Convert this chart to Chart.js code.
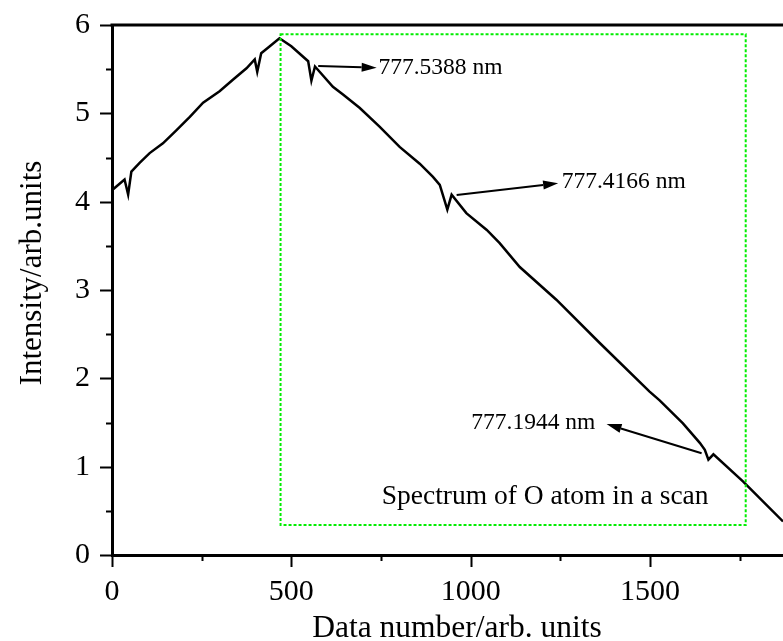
<!DOCTYPE html>
<html>
<head>
<meta charset="utf-8">
<script src="https://cdn.jsdelivr.net/npm/chart.js@4.4.1/dist/chart.umd.min.js"></script>
<style>
  html, body { margin: 0; padding: 0; background: #fff; overflow: hidden; }
</style>
</head>
<body>
<canvas id="spec" width="783" height="641"></canvas>
<script>
// --- Data ---
const dataNumber = [0, 35, 45, 54, 77, 105, 142, 180, 217, 254, 300, 337, 375, 398, 405, 416,
  440, 467, 500, 547, 556, 566, 616, 645, 691, 746, 802, 858, 895, 914, 935, 947, 988, 1045,
  1081, 1137, 1239, 1360, 1499, 1527, 1592, 1639, 1653, 1663, 1677, 1760, 1871];
const intensity = [4.13, 4.25, 4.08, 4.34, 4.44, 4.55, 4.66, 4.81, 4.96, 5.12, 5.25, 5.38, 5.51, 5.61, 5.47, 5.68,
  5.76, 5.85, 5.76, 5.59, 5.37, 5.53, 5.30, 5.21, 5.06, 4.85, 4.62, 4.43, 4.28, 4.19, 3.91, 4.08, 3.87, 3.68,
  3.53, 3.26, 2.89, 2.40, 1.85, 1.75, 1.49, 1.27, 1.19, 1.08, 1.14, 0.83, 0.38];

// --- Annotations (data units) ---
const lineLabels = ['777.5388 nm', '777.4166 nm', '777.1944 nm'];
const arrowFrom = [[575, 5.536], [961, 4.076], [1644, 1.151]];
const arrowTo = [[738, 5.517], [1244, 4.208], [1379, 1.483]];
const labelAt = [[743, 5.442], [1254, 4.151], [1002, 1.423]];

const boxX = [470, 1767];
const boxY = [0.34, 5.895];
const boxText = 'Spectrum of O atom in a scan';
const boxTextAt = [752, 0.574];

const xTitle = 'Data number/arb. units';
const yTitle = 'Intensity/arb.units';

const serif = "'Liberation Serif', 'Times New Roman', serif";

// --- Extras: ticks, top border, box, arrows, titles ---
const extras = {
  id: 'extras',
  afterDraw(chart) {
    const ctx = chart.ctx;
    const xs = chart.scales.x, ys = chart.scales.y;
    const area = chart.chartArea;
    ctx.save();

    // tick marks (major long, minor short), pointing outward
    ctx.strokeStyle = '#000';
    ctx.lineWidth = 2;
    ctx.beginPath();
    for (let v = 0; v <= xs.max; v += 250) {
      const px = Math.round(xs.getPixelForValue(v)) + 0.5;
      const len = v % 500 === 0 ? 12 : 6;
      ctx.moveTo(px, area.bottom);
      ctx.lineTo(px, area.bottom + len);
    }
    for (let v = 0; v <= 6; v += 0.5) {
      const py = Math.round(ys.getPixelForValue(v)) + 0.5;
      const len = Number.isInteger(v) ? 12 : 6;
      ctx.moveTo(area.left - len, py);
      ctx.lineTo(area.left, py);
    }
    ctx.stroke();

    // top frame line
    ctx.lineWidth = 3;
    ctx.beginPath();
    ctx.moveTo(area.left - 1.5, area.top);
    ctx.lineTo(chart.width, area.top);
    ctx.stroke();

    // green dotted box
    ctx.strokeStyle = '#00ee00';
    ctx.lineWidth = 2;
    ctx.setLineDash([3, 2]);
    const bx0 = xs.getPixelForValue(boxX[0]), bx1 = xs.getPixelForValue(boxX[1]);
    const by0 = ys.getPixelForValue(boxY[1]), by1 = ys.getPixelForValue(boxY[0]);
    ctx.strokeRect(bx0, by0, bx1 - bx0, by1 - by0);
    ctx.setLineDash([]);

    // arrows
    ctx.strokeStyle = '#000';
    ctx.fillStyle = '#000';
    ctx.lineWidth = 2;
    arrowFrom.forEach((f, i) => {
      const x0 = xs.getPixelForValue(f[0]), y0 = ys.getPixelForValue(f[1]);
      const x1 = xs.getPixelForValue(arrowTo[i][0]), y1 = ys.getPixelForValue(arrowTo[i][1]);
      const a = Math.atan2(y1 - y0, x1 - x0);
      const hl = 15, hw = 4.5;
      ctx.beginPath();
      ctx.moveTo(x0, y0);
      ctx.lineTo(x1 - hl * Math.cos(a), y1 - hl * Math.sin(a));
      ctx.stroke();
      ctx.beginPath();
      ctx.moveTo(x1, y1);
      ctx.lineTo(x1 - hl * Math.cos(a) + hw * Math.sin(a), y1 - hl * Math.sin(a) - hw * Math.cos(a));
      ctx.lineTo(x1 - hl * Math.cos(a) - hw * Math.sin(a), y1 - hl * Math.sin(a) + hw * Math.cos(a));
      ctx.closePath();
      ctx.fill();
    });

    // labels
    ctx.textBaseline = 'alphabetic';
    ctx.textAlign = 'left';
    ctx.font = '23.5px ' + serif;
    lineLabels.forEach((t, i) => {
      ctx.fillText(t, xs.getPixelForValue(labelAt[i][0]), ys.getPixelForValue(labelAt[i][1]));
    });
    ctx.font = '27.5px ' + serif;
    ctx.fillText(boxText, xs.getPixelForValue(boxTextAt[0]), ys.getPixelForValue(boxTextAt[1]));

    // axis titles
    ctx.textAlign = 'center';
    ctx.font = '31.5px ' + serif;
    ctx.fillText(xTitle, 457, 637);
    ctx.translate(41, 273);
    ctx.rotate(-Math.PI / 2);
    ctx.font = '31px ' + serif;
    ctx.fillText(yTitle, 0, 0);
    ctx.restore();
  }
};

const points = dataNumber.map((x, i) => ({ x, y: intensity[i] }));

new Chart(document.getElementById('spec'), {
  type: 'line',
  data: {
    datasets: [{
      data: points,
      borderColor: '#000',
      borderWidth: 2.5,
      pointRadius: 0,
      tension: 0,
      fill: false
    }]
  },
  options: {
    responsive: false,
    animation: false,
    events: [],
    layout: { padding: { top: 25, right: 0, left: 0, bottom: 0 } },
    plugins: { legend: { display: false }, tooltip: { enabled: false } },
    scales: {
      x: {
        type: 'linear',
        min: 0,
        max: 1871,
        afterFit: s => { s.height = 86; s.paddingLeft = 0; s.paddingRight = 0; },
        grid: { display: false },
        border: { display: true, color: '#000', width: 3 },
        ticks: {
          stepSize: 250,
          includeBounds: false,
          maxRotation: 0,
          autoSkip: false,
          padding: 11,
          color: '#000',
          font: { family: serif, size: 30 },
          callback: v => (v % 500 === 0 ? String(v) : '')
        }
      },
      y: {
        min: 0,
        max: 6,
        afterFit: s => { s.width = 112; s.paddingTop = 0; s.paddingBottom = 0; },
        grid: { display: false },
        border: { display: true, color: '#000', width: 3 },
        ticks: {
          stepSize: 0.5,
          autoSkip: false,
          padding: 14,
          color: '#000',
          font: { family: serif, size: 30 },
          callback: v => (Number.isInteger(v) ? String(v) : '')
        }
      }
    }
  },
  plugins: [extras]
});
</script>
</body>
</html>
